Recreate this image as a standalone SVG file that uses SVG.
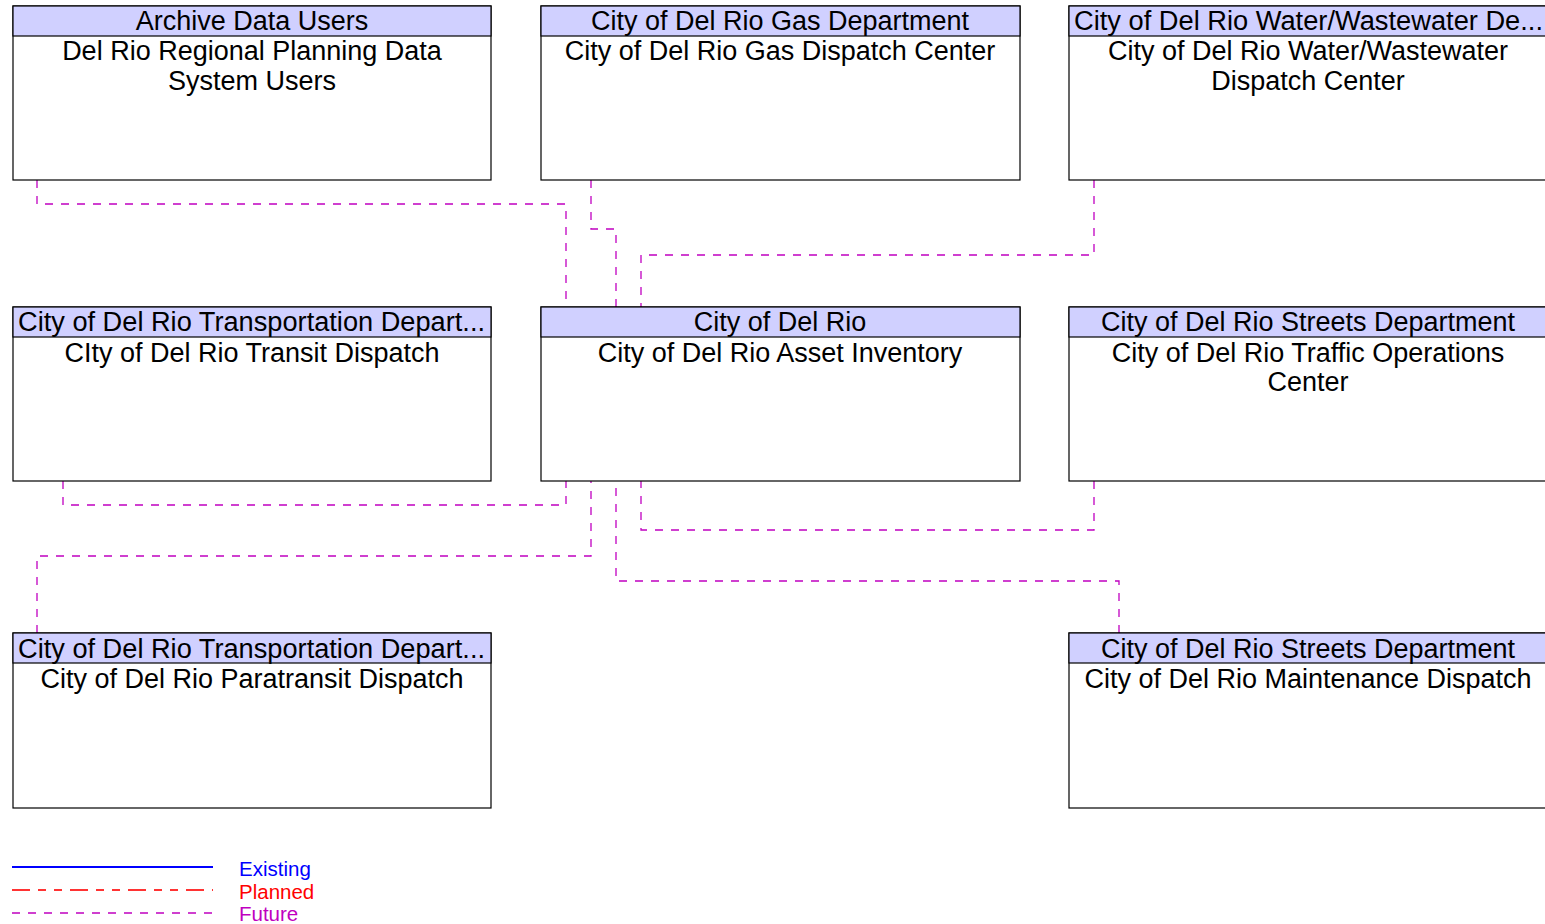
<svg xmlns="http://www.w3.org/2000/svg" width="1545" height="924" viewBox="0 0 1545 924">
<style>
.box{fill:#fff;stroke:#000;stroke-width:1.2}
.hdr{fill:#d0d0ff;stroke:#000;stroke-width:1.2}
.t{font-family:"Liberation Sans",Arial,sans-serif;font-size:27px;fill:#000;text-anchor:middle}
.c{fill:none;stroke:#c000c0;stroke-width:1.3;stroke-dasharray:8,8}
.lg{font-family:"Liberation Sans",Arial,sans-serif;font-size:20.5px}
</style>
<rect width="1545" height="924" fill="#fff"/>
<g id="connectors">
<polyline class="c" points="37,180 37,204 566,204 566,307"/>
<polyline class="c" points="591,180 591,229 616,229 616,307"/>
<polyline class="c" points="1094,180 1094,255 641,255 641,307"/>
<polyline class="c" points="63,481 63,505 566,505 566,481"/>
<polyline class="c" points="37,633 37,556 591,556 591,481"/>
<polyline class="c" points="1094,481 1094,530 641,530 641,481"/>
<polyline class="c" points="1119,633 1119,581 616,581 616,481"/>
</g>
<g id="n1">
<rect class="box" x="13" y="6" width="478" height="174"/>
<rect class="hdr" x="13" y="6" width="478" height="30"/>
<text class="t" x="252" y="30">Archive Data Users</text>
<text class="t" x="252" y="60">Del Rio Regional Planning Data</text>
<text class="t" x="252" y="90">System Users</text>
</g>
<g id="n2">
<rect class="box" x="541" y="6" width="479" height="174"/>
<rect class="hdr" x="541" y="6" width="479" height="30"/>
<text class="t" x="780" y="30">City of Del Rio Gas Department</text>
<text class="t" x="780" y="60">City of Del Rio Gas Dispatch Center</text>
</g>
<g id="n3">
<rect class="box" x="1069" y="6" width="480" height="174"/>
<rect class="hdr" x="1069" y="6" width="480" height="30"/>
<text class="t" x="1074" y="30" style="text-anchor:start" textLength="469" lengthAdjust="spacingAndGlyphs">City of Del Rio Water/Wastewater De...</text>
<text class="t" x="1308" y="60">City of Del Rio Water/Wastewater</text>
<text class="t" x="1308" y="90">Dispatch Center</text>
</g>
<g id="n4">
<rect class="box" x="13" y="307" width="478" height="174"/>
<rect class="hdr" x="13" y="307" width="478" height="30"/>
<text class="t" x="18" y="331" style="text-anchor:start" textLength="467" lengthAdjust="spacingAndGlyphs">City of Del Rio Transportation Depart...</text>
<text class="t" x="252" y="362">CIty of Del Rio Transit Dispatch</text>
</g>
<g id="n5">
<rect class="box" x="541" y="307" width="479" height="174"/>
<rect class="hdr" x="541" y="307" width="479" height="30"/>
<text class="t" x="780" y="331">City of Del Rio</text>
<text class="t" x="780" y="362">City of Del Rio Asset Inventory</text>
</g>
<g id="n6">
<rect class="box" x="1069" y="307" width="480" height="174"/>
<rect class="hdr" x="1069" y="307" width="480" height="30"/>
<text class="t" x="1308" y="331">City of Del Rio Streets Department</text>
<text class="t" x="1308" y="362">City of Del Rio Traffic Operations</text>
<text class="t" x="1308" y="391">Center</text>
</g>
<g id="n7">
<rect class="box" x="13" y="633" width="478" height="175"/>
<rect class="hdr" x="13" y="633" width="478" height="30"/>
<text class="t" x="18" y="658" style="text-anchor:start" textLength="467" lengthAdjust="spacingAndGlyphs">City of Del Rio Transportation Depart...</text>
<text class="t" x="252" y="688">City of Del Rio Paratransit Dispatch</text>
</g>
<g id="n8">
<rect class="box" x="1069" y="633" width="480" height="175"/>
<rect class="hdr" x="1069" y="633" width="480" height="30"/>
<text class="t" x="1308" y="658">City of Del Rio Streets Department</text>
<text class="t" x="1308" y="688">City of Del Rio Maintenance Dispatch</text>
</g>
<g id="legend">
<line x1="12" y1="867" x2="213" y2="867" stroke="#0000ff" stroke-width="2"/>
<line x1="12" y1="890" x2="213" y2="890" stroke="#ff3333" stroke-width="2" stroke-dasharray="18,8,8,8,8,8"/>
<line x1="12" y1="913" x2="213" y2="913" stroke="#c000c0" stroke-width="1.3" stroke-dasharray="8,8"/>
<text class="lg" x="239" y="876" fill="#0000ff">Existing</text>
<text class="lg" x="239" y="899" fill="#ff0000">Planned</text>
<text class="lg" x="239" y="921" fill="#c000c0">Future</text>
</g>
</svg>
